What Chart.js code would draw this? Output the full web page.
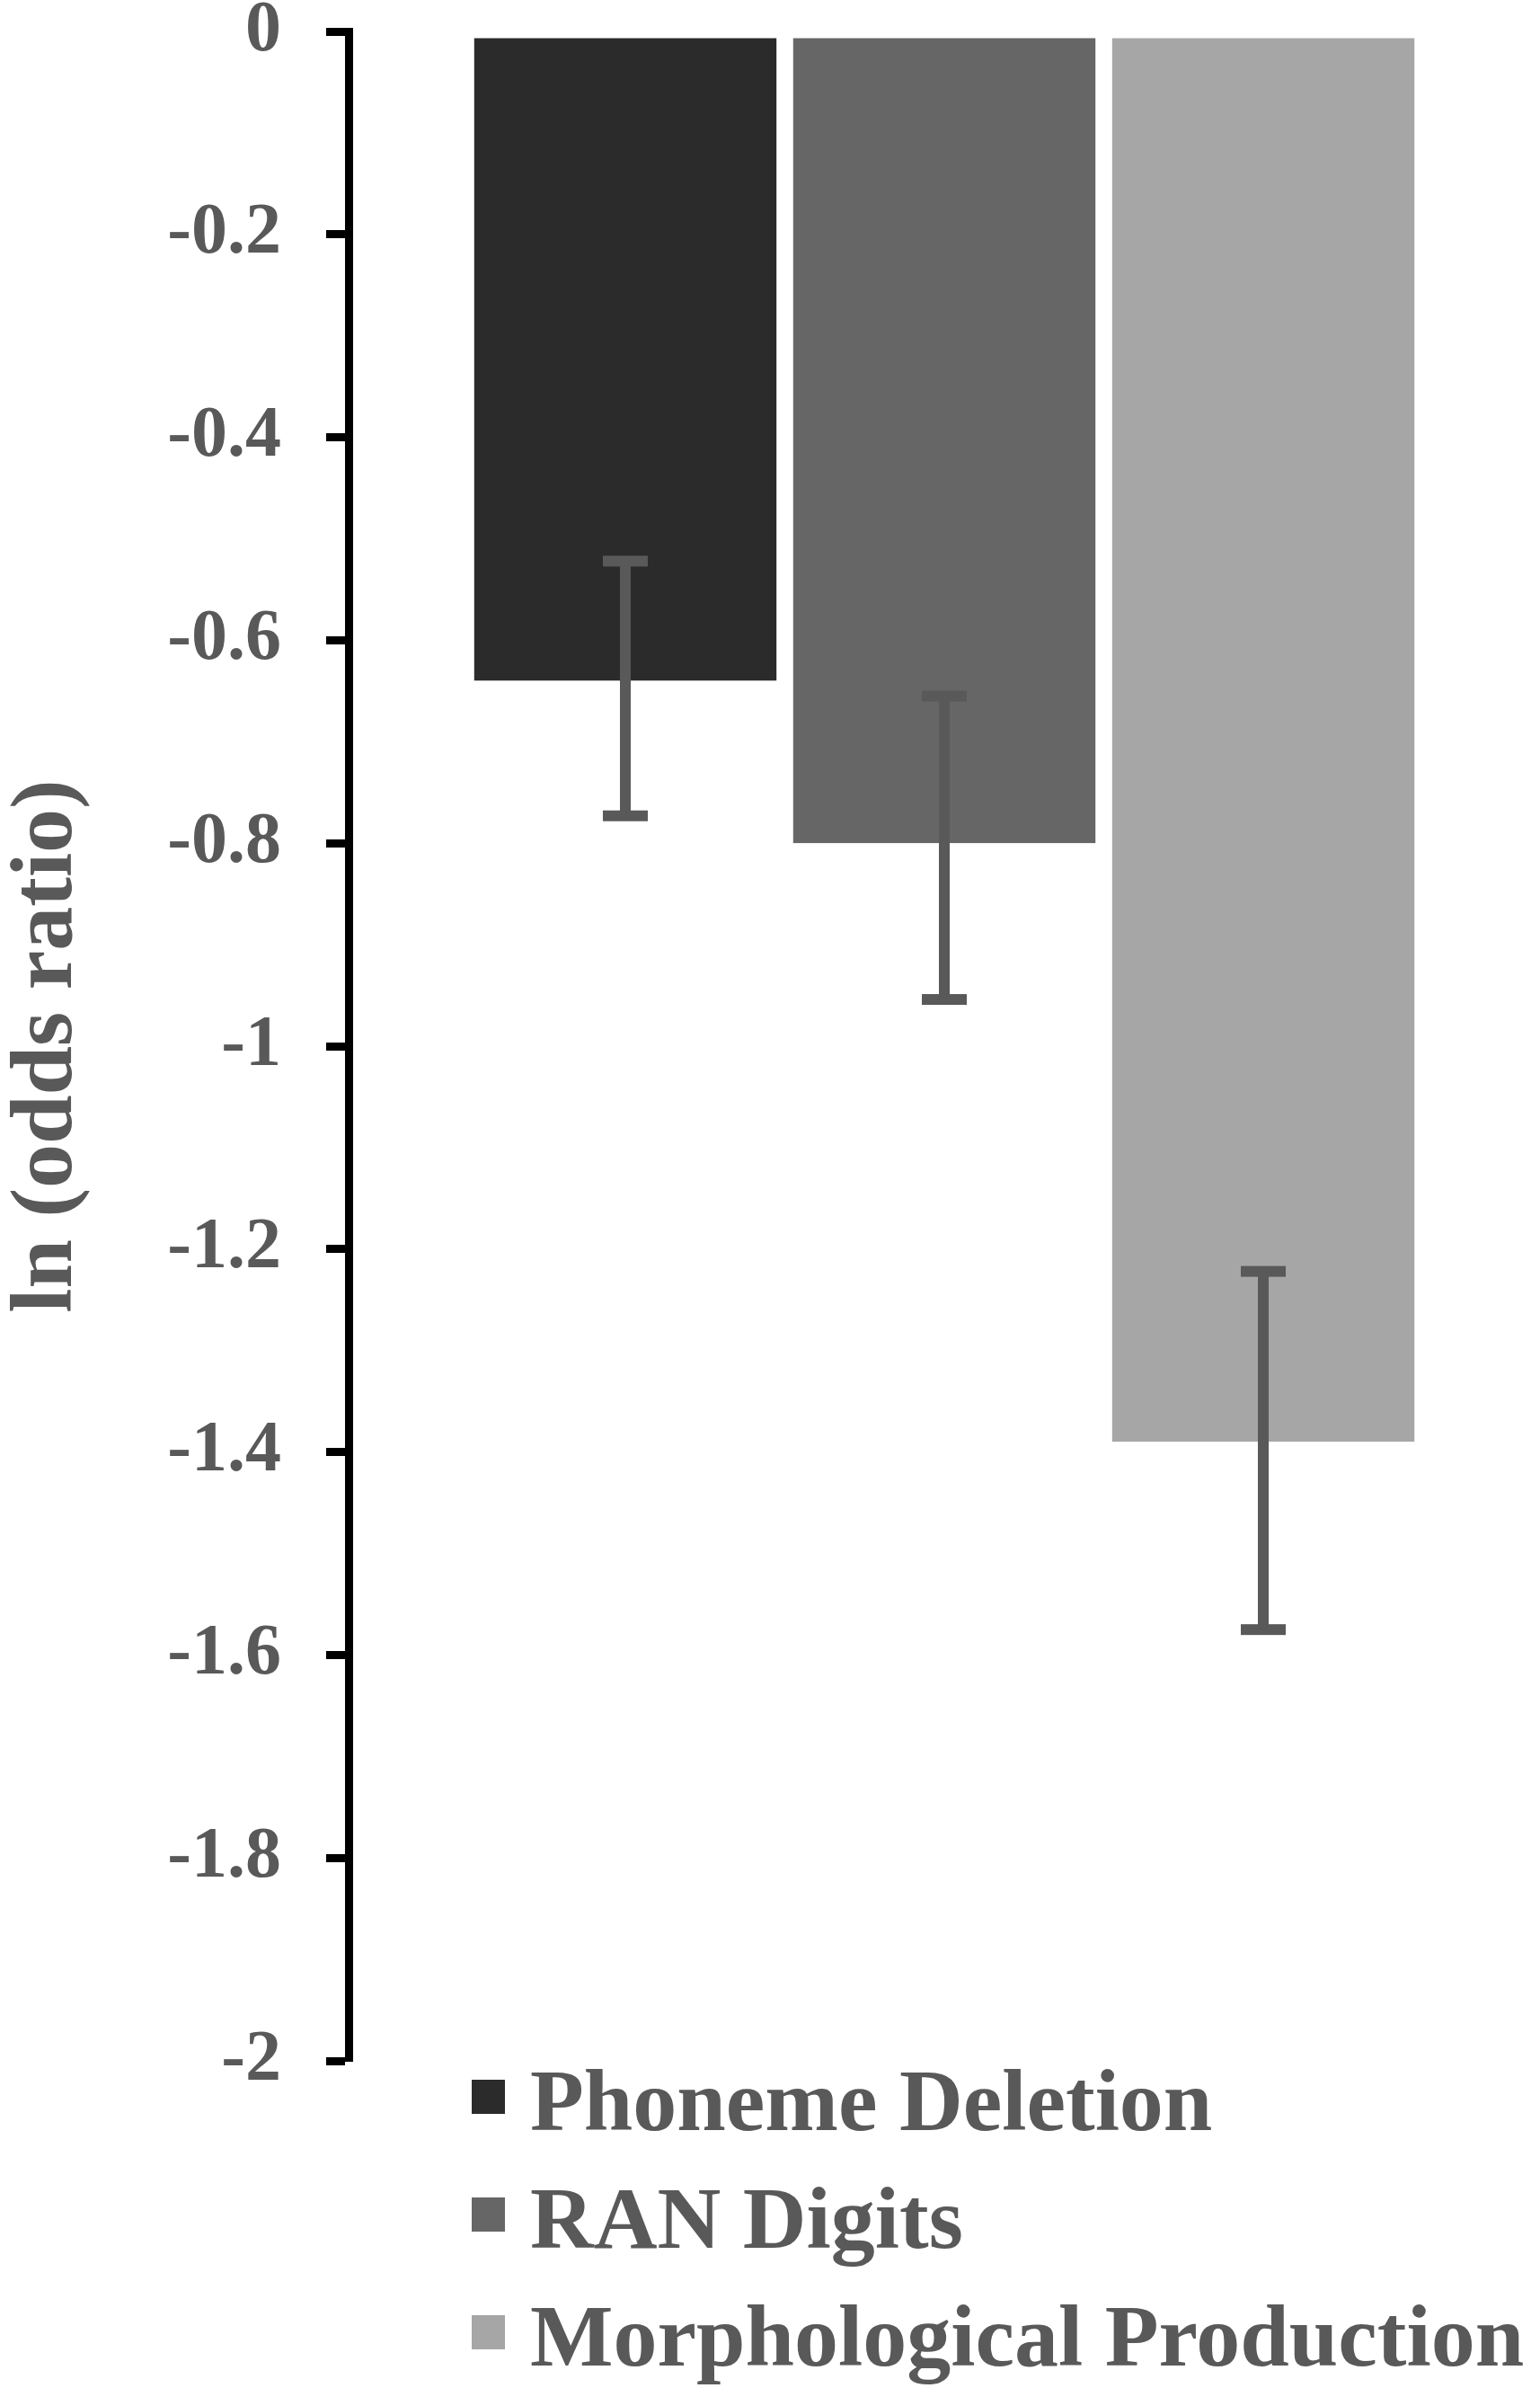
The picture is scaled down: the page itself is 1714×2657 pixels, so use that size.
<!DOCTYPE html>
<html>
<head>
<meta charset="utf-8">
<script src="https://cdn.jsdelivr.net/npm/chart.js@4.4.0/dist/chart.umd.min.js"></script>
<style>
  html, body { margin: 0; padding: 0; background: #fff; }
  #wrap { width: 1714px; height: 2657px; position: relative; }
</style>
</head>
<body>
<div id="wrap"><canvas id="chart"></canvas></div>
<script>
// series (one bar each, like the Excel original)
const seriesNames = ['Phoneme Deletion', 'RAN Digits', 'Morphological Production'];
const lnOdds = [-0.64, -0.80, -1.39];
// error bar ends
const errUpper = [-0.522, -0.655, -1.222];
const errLower = [-0.773, -0.954, -1.575];
// y axis
const yMin = -2;
const yMax = 0;
const yStep = 0.2;

const barColors = ['#2b2b2b', '#666666', '#a6a6a6'];
const textGray = '#595959';
const serif = '"Liberation Serif", "Times New Roman", serif';

// whiskers drawn off the y scale
const errorBars = {
  id: 'errorBars',
  afterDatasetsDraw(chart) {
    const ctx = chart.ctx;
    const y = chart.scales.y;
    ctx.save();
    ctx.strokeStyle = textGray;
    ctx.fillStyle = textGray;
    chart.data.datasets.forEach((ds, i) => {
      const bar = chart.getDatasetMeta(i).data[0];
      if (!bar) return;
      const x = bar.x;
      const yHi = y.getPixelForValue(errUpper[i]);
      const yLo = y.getPixelForValue(errLower[i]);
      ctx.lineWidth = 12;
      ctx.beginPath();
      ctx.moveTo(x, yHi);
      ctx.lineTo(x, yLo);
      ctx.stroke();
      ctx.fillRect(x - 25, yHi - 6, 50, 12);
      ctx.fillRect(x - 25, yLo - 6, 50, 12);
    });
    ctx.restore();
  }
};

// stacked legend under the plot
const stackedLegend = {
  id: 'stackedLegend',
  afterDraw(chart) {
    const ctx = chart.ctx;
    const area = chart.chartArea;
    const left = area.left + 137;
    let top = area.bottom + 21;
    ctx.save();
    ctx.font = 'bold 98px ' + serif;
    ctx.textBaseline = 'alphabetic';
    ctx.textAlign = 'left';
    chart.data.datasets.forEach(ds => {
      ctx.fillStyle = ds.backgroundColor;
      ctx.fillRect(left, top, 37, 38);
      ctx.fillStyle = textGray;
      ctx.fillText(ds.label, left + 65, top + 56);
      top += 131;
    });
    ctx.restore();
  }
};

const datasets = seriesNames.map((name, i) => ({
  label: name,
  data: [lnOdds[i]],
  backgroundColor: barColors[i],
  borderColor: '#ffffff',
  borderWidth: { top: 7, right: 0, bottom: 0, left: 0 },
  borderSkipped: false,
  categoryPercentage: 0.8032,
  barPercentage: 0.949
}));

new Chart(document.getElementById('chart'), {
  type: 'bar',
  data: { labels: [''], datasets },
  options: {
    responsive: true,
    maintainAspectRatio: false,
    animation: false,
    layout: { padding: { top: 35, right: 0, bottom: 364, left: 0 } },
    plugins: {
      legend: { display: false },
      tooltip: { enabled: false }
    },
    scales: {
      x: {
        display: false
      },
      y: {
        min: yMin,
        max: yMax,
        afterFit(scale) {
          scale.width = 388;
          // label padding otherwise pushes the plot down
          scale.paddingTop = 0;
          scale.paddingBottom = 0;
        },
        ticks: {
          stepSize: yStep,
          padding: 50,
          color: textGray,
          font: { family: serif, size: 80, weight: 'bold', lineHeight: 0.8 },
          callback: v => String(parseFloat(Number(v).toFixed(1)))
        },
        grid: {
          drawOnChartArea: false,
          drawTicks: true,
          tickLength: 25,
          tickWidth: 9,
          tickColor: '#000000'
        },
        border: { display: true, color: '#000000', width: 9 },
        title: {
          display: true,
          text: 'ln (odds ratio)',
          color: textGray,
          padding: { top: 12, bottom: 0 },
          font: { family: serif, size: 98, weight: 'bold', lineHeight: 0.86 }
        }
      }
    }
  },
  plugins: [errorBars, stackedLegend]
});
</script>
</body>
</html>
